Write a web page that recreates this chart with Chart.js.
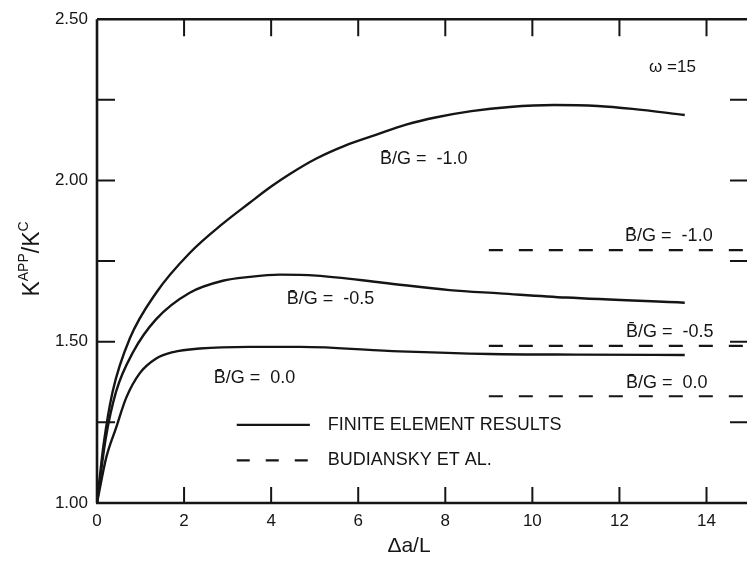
<!DOCTYPE html>
<html>
<head>
<meta charset="utf-8">
<script src="https://cdn.jsdelivr.net/npm/chart.js@4.4.0/dist/chart.umd.min.js"></script>
<style>
  html, body { margin: 0; padding: 0; background: #fff; }
  #wrap { width: 747px; height: 563px; }
</style>
</head>
<body>
<div id="wrap"><canvas id="chart"></canvas></div>
<script>
const INK = '#151515';
const FONT = '"Liberation Sans", Arial, Helvetica, sans-serif';

// axis ticks
const xTicks = [0, 2, 4, 6, 8, 10, 12, 14];
const yTicks = [1.0, 1.25, 1.5, 1.75, 2.0, 2.25, 2.5];
const yLabelled = [1.0, 1.5, 2.0, 2.5];

// finite element results (solid), B/G = -1.0, -0.5, 0.0
const feX1 = [0, 0.15, 0.36, 0.75, 1.36, 2.13, 2.89, 3.5, 4.0, 4.43, 5.04, 5.7, 6.42, 7.1, 7.8, 8.6, 9.48, 10.5, 11.5, 12.3, 13.5];
const feY1 = [1.0, 1.18, 1.346, 1.509, 1.652, 1.775, 1.866, 1.93, 1.981, 2.02, 2.068, 2.108, 2.142, 2.173, 2.196, 2.215, 2.228, 2.234, 2.231, 2.222, 2.203];

const feX2 = [0, 0.2, 0.44, 0.83, 1.36, 2.13, 2.89, 3.5, 4.2, 5.04, 6.57, 8.1, 9.25, 10.78, 13.5];
const feY2 = [1.0, 1.2, 1.346, 1.468, 1.57, 1.652, 1.689, 1.701, 1.708, 1.705, 1.683, 1.66, 1.65, 1.637, 1.621];

const feX3 = [0, 0.21, 0.44, 0.67, 0.98, 1.36, 1.75, 2.36, 3.5, 4.66, 6.95, 9.02, 11.0, 13.5];
const feY3 = [1.0, 1.14, 1.234, 1.326, 1.402, 1.448, 1.468, 1.479, 1.484, 1.484, 1.47, 1.462, 1.46, 1.459];

// Budiansky et al. (dashed)
const budX = [9.0, 14.93];
const budY1 = [1.784, 1.784];
const budY2 = [1.487, 1.487];
const budY3 = [1.331, 1.331];

const pts = (xs, ys) => xs.map((x, i) => ({ x, y: ys[i] }));

function solid(label, xs, ys) {
  return {
    label, data: pts(xs, ys),
    borderColor: INK, borderWidth: 2.4, pointRadius: 0,
    cubicInterpolationMode: 'monotone', fill: false,
  };
}
function dashed(label, xs, ys) {
  return {
    label, data: pts(xs, ys),
    borderColor: INK, borderWidth: 2.2, pointRadius: 0,
    borderDash: [14, 16], fill: false,
  };
}

// text placed in data coordinates
const notes = [
  { x: 6.5, y: 2.065, text: 'B\u0304/G =  -1.0' },
  { x: 4.36, y: 1.631, text: 'B\u0304/G =  -0.5' },
  { x: 2.68, y: 1.386, text: 'B\u0304/G =  0.0' },
  { x: 12.13, y: 1.827, text: 'B\u0304/G =  -1.0' },
  { x: 12.15, y: 1.530, text: 'B\u0304/G =  -0.5' },
  { x: 12.15, y: 1.371, text: 'B\u0304/G =  0.0' },
];

const framePlugin = {
  id: 'frame',
  beforeDraw(chart) {
    const c = chart.ctx;
    c.save();
    c.fillStyle = '#fff';
    c.fillRect(0, 0, chart.width, chart.height);
    c.restore();
  },
  afterDraw(chart) {
    const c = chart.ctx;
    const a = chart.chartArea;
    const xs = chart.scales.x, ys = chart.scales.y;
    c.save();
    c.strokeStyle = INK;
    c.fillStyle = INK;
    c.lineWidth = 2.6;
    c.lineCap = 'butt';

    // frame (right edge falls just outside the picture)
    c.beginPath();
    c.moveTo(a.left, a.top); c.lineTo(chart.width, a.top);
    c.moveTo(a.left, a.top); c.lineTo(a.left, a.bottom);
    c.moveTo(a.left - 1, a.bottom); c.lineTo(chart.width, a.bottom);
    c.stroke();

    // inward ticks
    c.lineWidth = 2;
    c.beginPath();
    for (const v of xTicks) {
      if (v === 0) continue;
      const px = xs.getPixelForValue(v);
      c.moveTo(px, a.bottom); c.lineTo(px, a.bottom - 16);
      c.moveTo(px, a.top); c.lineTo(px, a.top + 17);
    }
    for (const v of yTicks) {
      if (v === 1.0 || v === 2.5) continue;
      const py = ys.getPixelForValue(v);
      c.moveTo(a.left, py); c.lineTo(a.left + 18, py);
      c.moveTo(chart.width, py); c.lineTo(chart.width - 17, py);
    }
    c.stroke();

    // annotations
    c.textBaseline = 'middle';
    c.textAlign = 'left';
    c.font = '18px ' + FONT;
    for (const n of notes) {
      c.fillText(n.text, xs.getPixelForValue(n.x), ys.getPixelForValue(n.y));
    }
    c.font = '17px ' + FONT;
    c.fillText('\u03c9 =15', xs.getPixelForValue(12.68), ys.getPixelForValue(2.35));

    // legend
    const lx0 = xs.getPixelForValue(3.21), lx1 = xs.getPixelForValue(4.89);
    const tx = xs.getPixelForValue(5.3);
    const ly1 = ys.getPixelForValue(1.242), ly2 = ys.getPixelForValue(1.132);
    c.lineWidth = 2.2;
    c.beginPath();
    c.moveTo(lx0, ly1); c.lineTo(lx1, ly1);
    c.stroke();
    c.setLineDash([13, 16]);
    c.beginPath();
    c.moveTo(lx0, ly2); c.lineTo(lx1 + 2, ly2);
    c.stroke();
    c.setLineDash([]);
    c.font = '18px ' + FONT;
    c.fillText('FINITE ELEMENT RESULTS', tx, ly1);
    c.fillText('BUDIANSKY ET AL.', tx, ly2);

    // x title
    c.font = '21px ' + FONT;
    c.textAlign = 'center';
    c.textBaseline = 'alphabetic';
    c.fillText('\u0394a/L', 409, 552);

    // y title with superscripts
    c.translate(31, 259);
    c.rotate(-Math.PI / 2);
    const big = '23px ' + FONT, small = '14px ' + FONT;
    const parts = [['K', big, 0], ['APP', small, -11], ['/K', big, 0], ['C', small, -11]];
    let total = 0;
    for (const [t, f] of parts) { c.font = f; total += c.measureText(t).width; }
    let cx = -total / 2;
    c.textAlign = 'left';
    c.textBaseline = 'alphabetic';
    for (const [t, f, dy] of parts) {
      c.font = f;
      c.fillText(t, cx, 8 + dy);
      cx += c.measureText(t).width;
    }
    c.restore();
  },
};

new Chart(document.getElementById('chart'), {
  type: 'line',
  data: {
    datasets: [
      solid('FE B/G=-1.0', feX1, feY1),
      solid('FE B/G=-0.5', feX2, feY2),
      solid('FE B/G=0.0', feX3, feY3),
      dashed('Budiansky B/G=-1.0', budX, budY1),
      dashed('Budiansky B/G=-0.5', budX, budY2),
      dashed('Budiansky B/G=0.0', budX, budY3),
    ],
  },
  options: {
    responsive: true,
    maintainAspectRatio: false,
    animation: false,
    events: [],
    layout: { padding: { top: 13, right: 0, left: 0, bottom: 0 } },
    plugins: { legend: { display: false }, tooltip: { enabled: false } },
    scales: {
      x: {
        type: 'linear', min: 0, max: 14.93,
        afterBuildTicks: (s) => { s.ticks = xTicks.map((v) => ({ value: v })); },
        afterFit: (s) => { s.height = 60; },
        grid: { display: false, drawTicks: false },
        border: { display: false },
        ticks: { color: INK, padding: 8, maxRotation: 0, font: { size: 17, family: FONT } },
      },
      y: {
        type: 'linear', min: 1.0, max: 2.5,
        afterBuildTicks: (s) => { s.ticks = yTicks.map((v) => ({ value: v })); },
        afterFit: (s) => { s.width = 97; },
        grid: { display: false, drawTicks: false },
        border: { display: false },
        ticks: {
          color: INK, padding: 9, font: { size: 17, family: FONT },
          callback: (v) => (yLabelled.includes(v) ? v.toFixed(2) : ''),
        },
      },
    },
  },
  plugins: [framePlugin],
});
</script>
</body>
</html>
